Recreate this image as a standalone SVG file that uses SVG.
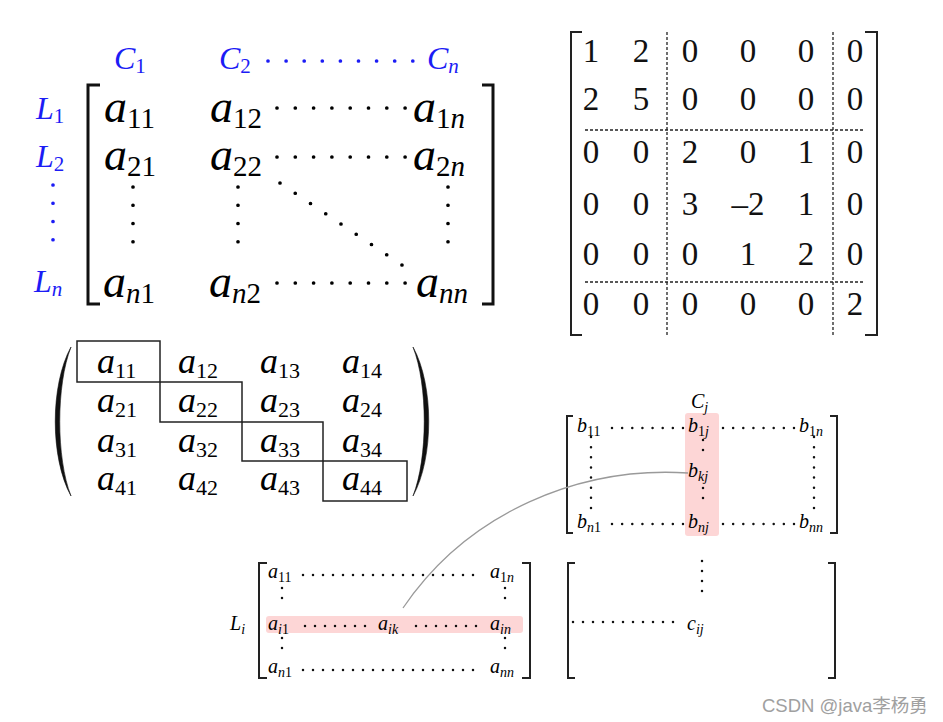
<svg xmlns="http://www.w3.org/2000/svg" width="943" height="722" viewBox="0 0 943 722">
<style>
.mi{font-family:"Liberation Serif","DejaVu Serif",serif;font-style:italic;fill:#000}
.up{font-style:normal}
.blue{fill:#1c1cf5}
.f46{font-size:46px}.s29{font-size:29px}
.f32{font-size:32px}.s21{font-size:21px}
.f36{font-size:36px}.s22{font-size:22px}
.f20{font-size:20px}.s14{font-size:14px}
.num{font-family:"Liberation Serif","DejaVu Serif",serif;font-size:33px;fill:#111;text-anchor:middle}
.br{fill:none;stroke:#111;stroke-width:3}
.br2{fill:none;stroke:#222;stroke-width:2}
.dl{fill:none;stroke:#000;stroke-linecap:round;stroke-width:3.7}
.dlb{fill:none;stroke:#1c1cf5;stroke-linecap:round;stroke-width:3.7}
.ds{fill:none;stroke:#111;stroke-linecap:round;stroke-width:2.5}
.dash{fill:none;stroke:#222;stroke-width:1.3;stroke-dasharray:3 2}
.box{fill:none;stroke:#222;stroke-width:1.5}
.hl{fill:#fdd6d6}
.wm{font-family:"Liberation Sans","Noto Sans CJK SC",sans-serif;font-size:18.5px;fill:#a0a0a0}
</style>

<g id="matrix-general">
  <text class="mi blue f32" x="114" y="69">C<tspan class="s21 up" dy="4">1</tspan></text>
  <text class="mi blue f32" x="219" y="69">C<tspan class="s21 up" dy="4">2</tspan></text>
  <text class="mi blue f32" x="427" y="69">C<tspan class="s21" dy="4">n</tspan></text>
  <line class="dlb" x1="268" y1="61" x2="413" y2="61" stroke-dasharray="0 18.1"/>
  <text class="mi blue f32" x="36" y="119">L<tspan class="s21 up" dy="4">1</tspan></text>
  <text class="mi blue f32" x="36" y="167">L<tspan class="s21 up" dy="4">2</tspan></text>
  <text class="mi blue f32" x="34" y="292">L<tspan class="s21" dy="4">n</tspan></text>
  <line class="dlb" x1="53" y1="185" x2="53" y2="258" stroke-dasharray="0 18.25"/>
  <path class="br" d="M100 85H88V304H100"/>
  <path class="br" d="M482 85H493V304H482"/>
  <text class="mi f46" x="104" y="122">a<tspan class="s29 up" dy="6">11</tspan></text>
  <text class="mi f46" x="210" y="122">a<tspan class="s29 up" dy="6">12</tspan></text>
  <text class="mi f46" x="413" y="122">a<tspan class="s29" dy="6"><tspan class="up">1</tspan>n</tspan></text>
  <text class="mi f46" x="104" y="170">a<tspan class="s29 up" dy="6">21</tspan></text>
  <text class="mi f46" x="210" y="170">a<tspan class="s29 up" dy="6">22</tspan></text>
  <text class="mi f46" x="413" y="170">a<tspan class="s29" dy="6"><tspan class="up">2</tspan>n</tspan></text>
  <text class="mi f46" x="103" y="297">a<tspan class="s29" dy="6">n<tspan class="up">1</tspan></tspan></text>
  <text class="mi f46" x="209" y="297">a<tspan class="s29" dy="6">n<tspan class="up">2</tspan></tspan></text>
  <text class="mi f46" x="416" y="297">a<tspan class="s29" dy="6">nn</tspan></text>
  <line class="dl" x1="277" y1="108" x2="405.1" y2="108" stroke-dasharray="0 18.3"/>
  <line class="dl" x1="277" y1="157" x2="405.1" y2="157" stroke-dasharray="0 18.3"/>
  <line class="dl" x1="277" y1="283" x2="405.1" y2="283" stroke-dasharray="0 18.3"/>
  <line class="dl" x1="133" y1="187" x2="133" y2="260" stroke-dasharray="0 18.25"/>
  <line class="dl" x1="238" y1="187" x2="238" y2="260" stroke-dasharray="0 18.25"/>
  <line class="dl" x1="448" y1="187" x2="448" y2="260" stroke-dasharray="0 18.25"/>
  <line class="dl" x1="280" y1="183" x2="402" y2="265" stroke-dasharray="0 18.37"/>
</g>

<g id="matrix-block">
  <path class="br2" d="M582 32H571V335H582"/>
  <path class="br2" d="M865 32H877V335H865"/>
  <line class="dash" x1="585" y1="130" x2="865" y2="130"/>
  <line class="dash" x1="585" y1="282" x2="865" y2="282"/>
  <line class="dash" x1="667" y1="32" x2="667" y2="335"/>
  <line class="dash" x1="833" y1="32" x2="833" y2="335"/>
  <g class="num">
    <text x="591" y="62">1</text><text x="641" y="62">2</text><text x="690" y="62">0</text><text x="748" y="62">0</text><text x="806" y="62">0</text><text x="855" y="62">0</text>
    <text x="591" y="110">2</text><text x="641" y="110">5</text><text x="690" y="110">0</text><text x="748" y="110">0</text><text x="806" y="110">0</text><text x="855" y="110">0</text>
    <text x="591" y="163">0</text><text x="641" y="163">0</text><text x="690" y="163">2</text><text x="748" y="163">0</text><text x="806" y="163">1</text><text x="855" y="163">0</text>
    <text x="591" y="215">0</text><text x="641" y="215">0</text><text x="690" y="215">3</text><text x="748" y="215">–2</text><text x="806" y="215">1</text><text x="855" y="215">0</text>
    <text x="591" y="265">0</text><text x="641" y="265">0</text><text x="690" y="265">0</text><text x="748" y="265">1</text><text x="806" y="265">2</text><text x="855" y="265">0</text>
    <text x="591" y="315">0</text><text x="641" y="315">0</text><text x="690" y="315">0</text><text x="748" y="315">0</text><text x="806" y="315">0</text><text x="855" y="315">2</text>
  </g>
</g>

<g id="matrix-diagonal">
  <path d="M71 347C50 385 50 458 71 496C56 458 56 385 71 347Z" fill="#111" stroke="#111" stroke-width="0.6"/>
  <path d="M413 347C434 385 434 458 413 496C428 458 428 385 413 347Z" fill="#111" stroke="#111" stroke-width="0.6"/>
  <rect class="box" x="77" y="341" width="83" height="41"/>
  <rect class="box" x="160" y="382" width="82" height="40"/>
  <rect class="box" x="242" y="422" width="81" height="39"/>
  <rect class="box" x="323" y="461" width="84" height="40"/>
  <text class="mi f36" x="97" y="373">a<tspan class="s22 up" dy="5">11</tspan></text>
  <text class="mi f36" x="178" y="373">a<tspan class="s22 up" dy="5">12</tspan></text>
  <text class="mi f36" x="260" y="373">a<tspan class="s22 up" dy="5">13</tspan></text>
  <text class="mi f36" x="342" y="373">a<tspan class="s22 up" dy="5">14</tspan></text>
  <text class="mi f36" x="97" y="412">a<tspan class="s22 up" dy="5">21</tspan></text>
  <text class="mi f36" x="178" y="412">a<tspan class="s22 up" dy="5">22</tspan></text>
  <text class="mi f36" x="260" y="412">a<tspan class="s22 up" dy="5">23</tspan></text>
  <text class="mi f36" x="342" y="412">a<tspan class="s22 up" dy="5">24</tspan></text>
  <text class="mi f36" x="97" y="452">a<tspan class="s22 up" dy="5">31</tspan></text>
  <text class="mi f36" x="178" y="452">a<tspan class="s22 up" dy="5">32</tspan></text>
  <text class="mi f36" x="260" y="452">a<tspan class="s22 up" dy="5">33</tspan></text>
  <text class="mi f36" x="342" y="452">a<tspan class="s22 up" dy="5">34</tspan></text>
  <text class="mi f36" x="97" y="490">a<tspan class="s22 up" dy="5">41</tspan></text>
  <text class="mi f36" x="178" y="490">a<tspan class="s22 up" dy="5">42</tspan></text>
  <text class="mi f36" x="260" y="490">a<tspan class="s22 up" dy="5">43</tspan></text>
  <text class="mi f36" x="342" y="490">a<tspan class="s22 up" dy="5">44</tspan></text>
</g>

<g id="matrix-B">
  <rect class="hl" x="685" y="413" width="34" height="123" rx="3"/>
  <text class="mi f20" x="691" y="408">C<tspan class="s14" dy="3.5">j</tspan></text>
  <path class="br2" d="M573 416H567V533H573"/>
  <path class="br2" d="M830 416H837V533H830"/>
  <text class="mi f20" x="577" y="432">b<tspan class="s14 up" dy="3.5">11</tspan></text>
  <text class="mi f20" x="688" y="432">b<tspan class="s14" dy="3.5"><tspan class="up">1</tspan>j</tspan></text>
  <text class="mi f20" x="799" y="432">b<tspan class="s14" dy="3.5"><tspan class="up">1</tspan>n</tspan></text>
  <text class="mi f20" x="688" y="477">b<tspan class="s14" dy="3.5">kj</tspan></text>
  <text class="mi f20" x="577" y="528">b<tspan class="s14" dy="3.5">n<tspan class="up">1</tspan></tspan></text>
  <text class="mi f20" x="688" y="528">b<tspan class="s14" dy="3.5">nj</tspan></text>
  <text class="mi f20" x="799" y="528">b<tspan class="s14" dy="3.5">nn</tspan></text>
  <line class="ds" x1="612" y1="428" x2="683" y2="428" stroke-dasharray="0 10.14"/>
  <line class="ds" x1="723" y1="428" x2="794" y2="428" stroke-dasharray="0 10.14"/>
  <line class="ds" x1="612" y1="524" x2="683" y2="524" stroke-dasharray="0 10.14"/>
  <line class="ds" x1="723" y1="524" x2="794" y2="524" stroke-dasharray="0 10.14"/>
  <line class="ds" x1="591" y1="437" x2="591" y2="508" stroke-dasharray="0 10.14"/>
  <line class="ds" x1="814" y1="437" x2="814" y2="508" stroke-dasharray="0 10.14"/>
  <line class="ds" x1="703" y1="440" x2="703" y2="460" stroke-dasharray="0 10"/>
  <line class="ds" x1="703" y1="488" x2="703" y2="508" stroke-dasharray="0 10"/>
</g>

<g id="matrix-A">
  <rect class="hl" x="266" y="616" width="257" height="17" rx="3"/>
  <text class="mi f20" x="230" y="630">L<tspan class="s14" dy="3.5">i</tspan></text>
  <path class="br2" d="M267 563H259V678H267"/>
  <path class="br2" d="M522 563H530V678H522"/>
  <text class="mi f20" x="268" y="578">a<tspan class="s14 up" dy="3.5">11</tspan></text>
  <text class="mi f20" x="490" y="578">a<tspan class="s14" dy="3.5"><tspan class="up">1</tspan>n</tspan></text>
  <text class="mi f20" x="268" y="630">a<tspan class="s14" dy="3.5">i<tspan class="up">1</tspan></tspan></text>
  <text class="mi f20" x="378" y="630">a<tspan class="s14" dy="3.5">ik</tspan></text>
  <text class="mi f20" x="490" y="630">a<tspan class="s14" dy="3.5">in</tspan></text>
  <text class="mi f20" x="268" y="673">a<tspan class="s14" dy="3.5">n<tspan class="up">1</tspan></tspan></text>
  <text class="mi f20" x="490" y="673">a<tspan class="s14" dy="3.5">nn</tspan></text>
  <line class="ds" x1="303" y1="575" x2="483" y2="575" stroke-dasharray="0 10"/>
  <line class="ds" x1="305" y1="626" x2="375" y2="626" stroke-dasharray="0 10"/>
  <line class="ds" x1="416" y1="626" x2="486" y2="626" stroke-dasharray="0 10"/>
  <line class="ds" x1="303" y1="670" x2="483" y2="670" stroke-dasharray="0 10"/>
  <line class="ds" x1="282" y1="588" x2="282" y2="608" stroke-dasharray="0 10"/>
  <line class="ds" x1="282" y1="638" x2="282" y2="658" stroke-dasharray="0 10"/>
  <line class="ds" x1="505" y1="588" x2="505" y2="608" stroke-dasharray="0 10"/>
  <line class="ds" x1="505" y1="638" x2="505" y2="658" stroke-dasharray="0 10"/>
</g>

<g id="matrix-C">
  <path class="br2" d="M575 563H568V678H575"/>
  <path class="br2" d="M828 563H835V678H828"/>
  <line class="ds" x1="702" y1="561" x2="702" y2="601" stroke-dasharray="0 10"/>
  <line class="ds" x1="573" y1="622" x2="683" y2="622" stroke-dasharray="0 10"/>
  <text class="mi f20" x="687" y="630">c<tspan class="s14" dy="3.5">ij</tspan></text>
</g>

<g id="connectors">
  <path d="M688 473C580 466 468 512 403 608" fill="none" stroke="#9a9a9a" stroke-width="1.3"/>
</g>

<g id="watermark">
  <text class="wm" x="762" y="712">CSDN @java李杨勇</text>
</g>
</svg>
